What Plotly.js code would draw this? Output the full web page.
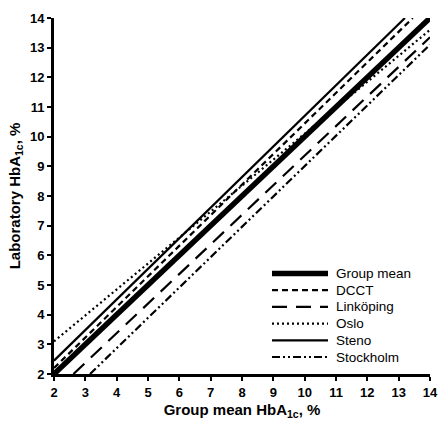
<!DOCTYPE html>
<html>
<head>
<meta charset="utf-8">
<script src="https://cdn.plot.ly/plotly-3.0.1.min.js"></script>
<style>html,body{margin:0;padding:0;background:#fff;}#chart{width:439px;height:421px;}</style>
</head>
<body>
<div id="chart"></div>
<script>
// Each line given by its two visible end points
var seriesNames = ["Group mean", "DCCT", "Linköping", "Oslo", "Steno", "Stockholm"];
var groupMeanX = [2, 14];      var groupMeanY = [2, 14];
var dcctX = [2, 13.45];        var dcctY = [2.2, 14];
var linkopingX = [2.62, 14];   var linkopingY = [2, 13.35];
var osloX = [2, 14];           var osloY = [3.1, 13.6];
var stenoX = [2, 13.2];        var stenoY = [2.45, 14];
var stockholmX = [3.15, 14];   var stockholmY = [2, 13.1];
var tickVals = [2,3,4,5,6,7,8,9,10,11,12,13,14];

var fam = "Liberation Sans, Arial, sans-serif";
var styles = [
  {w: 5.5, dash: "solid"},
  {w: 2.2, dash: "6px,4px"},
  {w: 2.2, dash: "15px,9px"},
  {w: 2.2, dash: "2px,3px"},
  {w: 2.2, dash: "solid"},
  {w: 2.2, dash: "8px,3px,2px,3px,2px,3px"}
];
var xs = [groupMeanX, dcctX, linkopingX, osloX, stenoX, stockholmX];
var ys = [groupMeanY, dcctY, linkopingY, osloY, stenoY, stockholmY];
var data = seriesNames.map(function (n, i) {
  return {type: "scatter", mode: "lines", name: n, x: xs[i], y: ys[i],
          showlegend: false, hoverinfo: "skip",
          line: {color: "#000", width: styles[i].w, dash: styles[i].dash}};
});

// Hand-laid legend (matches the compact spacing of the reference)
var plotL = 54, plotT = 18, plotW = 376, plotH = 356;
function px2x(p) { return (p - plotL) / plotW; }
function px2y(p) { return (plotT + plotH - p) / plotH; }
var legTop = 273.5, legStep = 16.7, sampleX0 = 272, sampleX1 = 328, textX = 334;
var shapes = [], annotations = [];
seriesNames.forEach(function (n, i) {
  var yy = px2y(legTop + i * legStep);
  shapes.push({type: "line", xref: "paper", yref: "paper",
               x0: px2x(sampleX0), x1: px2x(sampleX1), y0: yy, y1: yy,
               line: {color: "#000", width: styles[i].w, dash: styles[i].dash}});
  annotations.push({xref: "paper", yref: "paper", x: px2x(textX), y: yy,
                    xanchor: "left", yanchor: "middle", showarrow: false, text: n,
                    font: {family: fam, size: 13.5, color: "#000"}});
});

var axisCommon = {
  range: [2, 14], tickvals: tickVals, ticks: "outside", ticklen: 4, tickwidth: 2,
  tickcolor: "#000", showline: true, linewidth: 3, linecolor: "#000",
  showgrid: false, zeroline: false, fixedrange: true,
  tickfont: {family: fam, size: 13, color: "#000", weight: "bold"}
};
var layout = {
  width: 439, height: 421,
  margin: {l: 54, r: 9, t: 18, b: 47},
  paper_bgcolor: "#fff", plot_bgcolor: "#fff",
  showlegend: false,
  shapes: shapes, annotations: annotations,
  xaxis: Object.assign({}, axisCommon, {
    title: {text: "Group mean HbA<sub>1c</sub>, %", standoff: 6,
            font: {family: fam, size: 15, color: "#000", weight: "bold"}}
  }),
  yaxis: Object.assign({}, axisCommon, {
    title: {text: "Laboratory HbA<sub>1c</sub>, %", standoff: 6,
            font: {family: fam, size: 15, color: "#000", weight: "bold"}}
  })
};
Plotly.newPlot("chart", data, layout, {displayModeBar: false, staticPlot: true});
</script>
</body>
</html>
